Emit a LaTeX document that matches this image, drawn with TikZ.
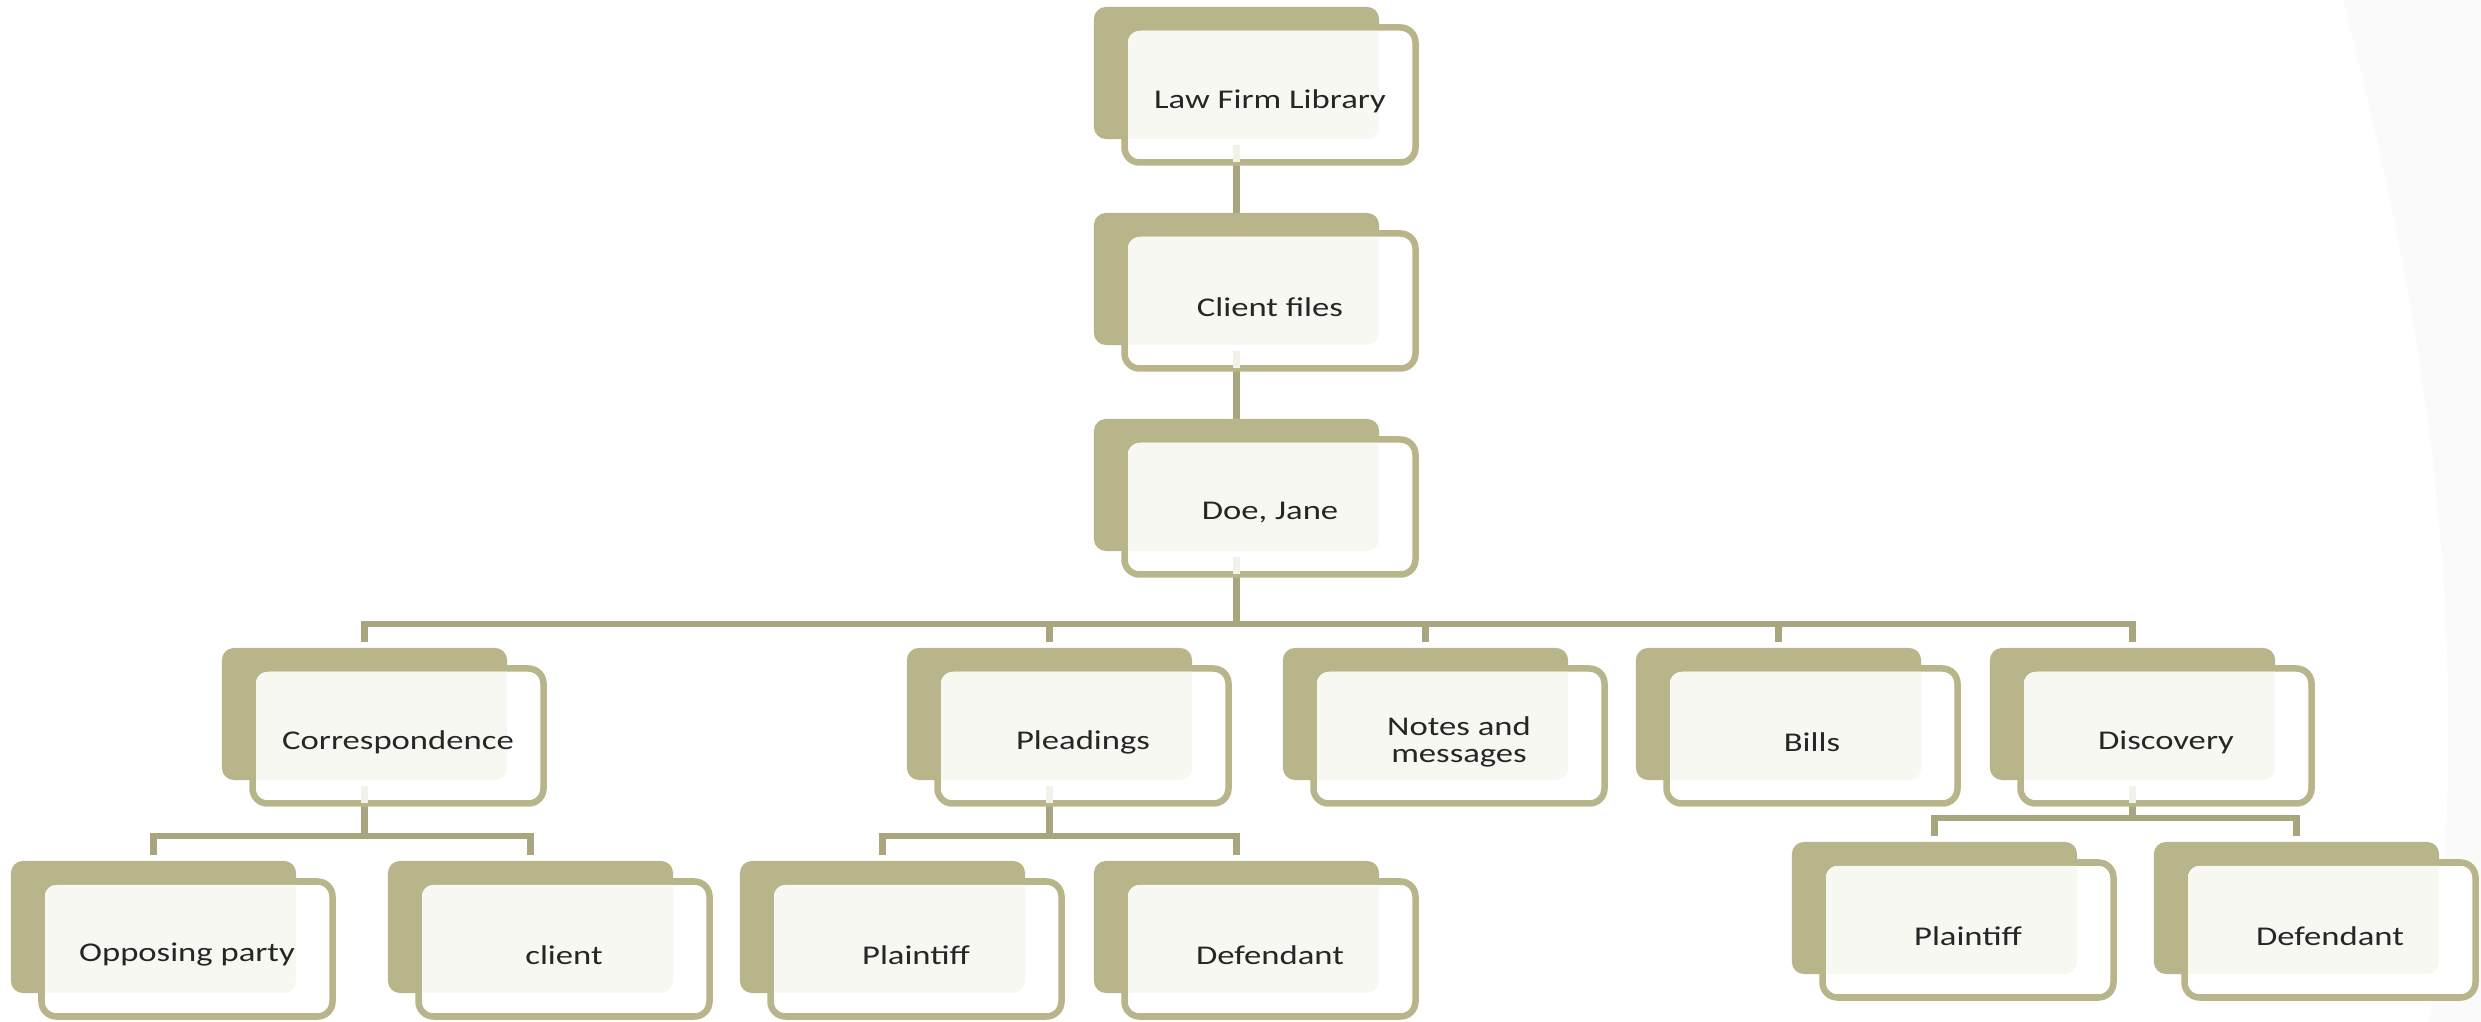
\documentclass[tikz,border=0pt]{standalone}
\usepackage{fontspec}
\setmainfont{Carlito}[FakeStretch=1.28]
\usetikzlibrary{backgrounds}
\definecolor{tanback}{HTML}{B9B58B}
\definecolor{conncol}{HTML}{A9A57F}
\definecolor{lightfill}{HTML}{F7F8F2}
\definecolor{faintline}{HTML}{F2F2EA}
\definecolor{txtcol}{HTML}{262626}
\definecolor{shadecol}{HTML}{FAFAFA}
\tikzset{
  backbox/.style={fill=tanback, draw=none, rounded corners=0.12cm, minimum width=2.85cm, minimum height=1.32cm, inner sep=0pt, outer sep=0pt},
  frontbox/.style={fill=white, draw=tanback, line width=0.065cm, rounded corners=0.15cm},
  lbl/.style={text=txtcol, align=center, inner sep=0pt, font=\fontsize{7.7pt}{7.9pt}\selectfont},
  conn/.style={draw=conncol, line width=0.065cm},
  faint/.style={draw=faintline, line width=0.065cm}
}
\newcommand\orgbox[4]{%
  \node[backbox] (#1) at ({#2+142.5},{#3+66}) {};
  \path[frontbox] ({#2+30.5},{#3+20.5}) rectangle ({#2+321.5},{#3+155.5});
  \begin{scope}
    \clip[rounded corners=0.12cm] ({#2+34},{#3+24}) rectangle ({#2+318},{#3+152});
    \fill[lightfill, rounded corners=0.12cm] (#2,#3) rectangle ({#2+285},{#3+132});
  \end{scope}
  \node[lbl] (#1-t) at ({#2+176},{#3+94}) {#4};
}
\begin{document}
\begin{tikzpicture}[x=0.01cm,y=-0.01cm]
\useasboundingbox (0,0) rectangle (2481,1022);
\begin{pgfonlayer}{background}
  \fill[white] (0,0) rectangle (2481,1022);
  \fill[shadecol] (2343,0) .. controls (2420,300) and (2480,620) .. (2430,1022) -- (2481,1022) -- (2481,0) -- cycle;
\end{pgfonlayer}

\orgbox{lfl}{1094}{7}{Law Firm Library}
\orgbox{cf}{1094}{213}{Client files}
\orgbox{dj}{1094}{419}{Doe, Jane}
\orgbox{corr}{222}{648}{Correspondence}
\orgbox{plead}{907}{648}{Pleadings}
\orgbox{notes}{1283}{648}{Notes and\\messages}
\orgbox{bills}{1636}{648}{Bills}
\orgbox{disc}{1990}{648}{Discovery}
\orgbox{opp}{11}{861}{Opposing party}
\orgbox{cli}{388}{861}{client}
\orgbox{pp}{740}{861}{Plaintiff}
\orgbox{pd}{1094}{861}{Defendant}
\orgbox{dp}{1792}{842}{Plaintiff}
\orgbox{dd}{2154}{842}{Defendant}

\coordinate (barA) at (0,624);
\coordinate (barB) at (0,836);
\coordinate (barC) at (0,818);

\begin{pgfonlayer}{background}
  \draw[conn] (lfl.south) -- (cf.north);
  \draw[conn] (cf.south) -- (dj.north);
  \foreach \c in {corr,plead,notes,bills,disc}
    \draw[conn] (dj.south) -- (dj.south |- barA) -| ([yshift=0.06cm]\c.north);
  \foreach \c in {opp,cli}
    \draw[conn] (corr.south) -- (corr.south |- barB) -| ([yshift=0.06cm]\c.north);
  \foreach \c in {pp,pd}
    \draw[conn] (plead.south) -- (plead.south |- barB) -| ([yshift=0.06cm]\c.north);
  \foreach \c in {dp,dd}
    \draw[conn] (disc.south) -- (disc.south |- barC) -| ([yshift=0.06cm]\c.north);
\end{pgfonlayer}

\foreach \p in {lfl,cf,dj,corr,plead,disc}
  \draw[faint] ([yshift=-0.06cm]\p.south) -- ([yshift=-0.23cm]\p.south);
\end{tikzpicture}
\end{document}
